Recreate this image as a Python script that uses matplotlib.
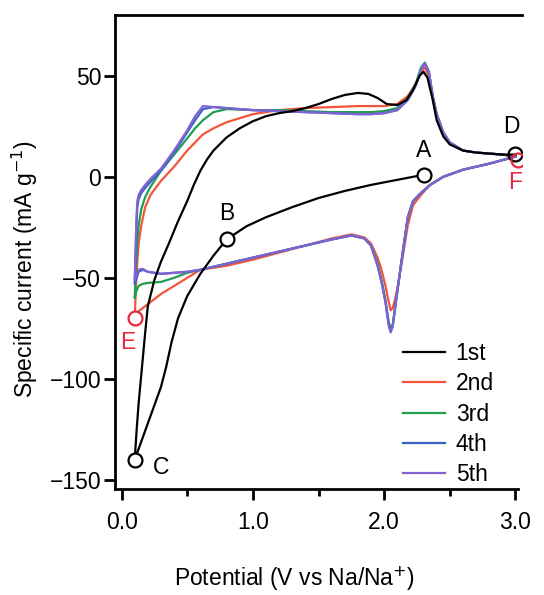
import matplotlib
matplotlib.use("Agg")
import matplotlib.pyplot as plt

plt.rcParams['font.family'] = ['Liberation Sans', 'DejaVu Sans']

# ---- data ----
# 1st cycle: cathodic sweep A -> B -> C, then anodic sweep C -> D
v1_cath = [2.3, 2.1, 1.9, 1.7, 1.5, 1.3, 1.1, 0.95, 0.8, 0.7, 0.6, 0.5, 0.43,
           0.38, 0.34, 0.3, 0.25, 0.2, 0.15, 0.1]
i1_cath = [1, -1.5, -4, -7, -10.5, -15, -20, -24.5, -31, -39, -48, -59, -70,
           -82, -94, -104, -113, -122, -131, -140]
v1_anod = [0.1, 0.115, 0.13, 0.15, 0.18, 0.2, 0.25, 0.3, 0.36, 0.43, 0.5, 0.55,
           0.6, 0.65, 0.7, 0.8, 0.9, 1.0, 1.1, 1.2, 1.3, 1.4, 1.5, 1.6, 1.7,
           1.8, 1.88, 1.95, 2.02, 2.1, 2.17, 2.22, 2.27, 2.3, 2.33, 2.37, 2.4,
           2.45, 2.5, 2.6, 2.7, 2.8, 2.9, 3.0]
i1_anod = [-140, -125, -112, -98, -77, -64, -51, -42, -33, -22, -12, -4,
           3, 8.5, 13, 19.5, 24, 27.5, 30, 31.5, 32.5, 34, 36, 38.5, 40.5,
           41.5, 41, 39, 36, 35.5, 38, 43, 50, 52, 49, 38, 28,
           20, 16, 13, 12, 11.5, 11, 11]

# cycles 2-5: cathodic 3.0 -> 0.1 V, then anodic 0.1 -> 3.0 V
v_cath = [3.0, 2.8, 2.6, 2.45, 2.35, 2.28, 2.22, 2.18, 2.14, 2.11, 2.085, 2.065,
          2.05, 2.035, 2.01, 1.98, 1.95, 1.9, 1.85, 1.75, 1.6, 1.4, 1.2, 1.0,
          0.8, 0.6, 0.5, 0.4, 0.3, 0.2, 0.16, 0.13, 0.11, 0.1]
i2_cath = [10, 6.5, 3.5, 0, -4, -9, -14, -24, -40, -52, -60, -65,
           -66, -62, -54, -46, -40, -33, -30, -28.5, -30.5, -34, -37.5, -41,
           -44, -46, -50, -54, -58, -63, -65, -66.5, -68, -70]
i3_cath = [10, 6.5, 3.5, 0, -4, -8, -12, -20, -38, -52, -64, -73,
           -75, -72, -61, -51, -43, -34, -30.5, -29, -31, -34, -37, -40,
           -43, -46, -47.5, -50, -52, -52.5, -53, -54, -57, -60]
i4_cath = [10, 6.5, 3.5, 0, -4, -8, -12, -20, -38, -52, -64, -74,
           -76, -73, -62, -52, -44, -34, -30.5, -29, -31, -34, -37, -40,
           -43, -46, -47, -47.5, -48, -47, -46, -47, -51, -53]
i5_cath = [10, 6.5, 3.5, 0, -4, -8, -12, -20, -38, -52, -64, -74,
           -77, -74, -62, -52, -44, -34, -30.5, -29, -31, -34, -37, -40,
           -43, -46, -47, -47.5, -48, -47, -45.5, -46, -49, -51]

v_anod = [0.1, 0.105, 0.11, 0.115, 0.12, 0.13, 0.15, 0.18, 0.22, 0.3, 0.4, 0.5,
          0.56, 0.62, 0.7, 0.8, 1.0, 1.2, 1.4, 1.6, 1.8, 1.9, 2.0, 2.1, 2.18,
          2.24, 2.28, 2.31, 2.34, 2.37, 2.4, 2.45, 2.5, 2.6, 2.7, 2.8, 2.9, 3.0]
i2_anod = [-70, -62, -54, -47, -42, -33, -24, -15, -9, -2, 5, 13,
           17, 21, 24, 27, 31, 33, 34, 34.5, 35, 35, 35, 36, 40,
           46, 52, 54, 50, 39, 30, 21, 17, 13, 12, 11.5, 11, 10]
i3_anod = [-60, -52, -44, -38, -32, -24, -16, -10, -5, 3, 11, 19,
           24, 28, 32, 33.5, 33, 33, 32.5, 32, 32, 32, 32.5, 34, 39,
           46, 54, 56.5, 52, 40, 31, 22, 17, 13, 12, 11.5, 11, 10]
i4_anod = [-53, -43, -32, -22, -15, -11, -8, -5.5, -2.5, 3, 12, 22,
           28, 33.5, 34.5, 34, 33, 32.5, 32, 31.5, 31, 31, 31.5, 33, 38,
           45, 53, 56, 52, 40, 31, 22, 17, 13, 12, 11.5, 11, 10]
i5_anod = [-51, -40, -28, -18, -12, -9, -6.5, -4, -1, 4, 13, 23,
           30, 35, 34.5, 34, 33, 32.5, 32, 31.5, 31, 31, 31.5, 33, 38,
           45, 53, 56, 52, 40, 31, 22, 17, 13, 12, 11.5, 11, 10]

cycle_labels = ['1st', '2nd', '3rd', '4th', '5th']
cycle_colors = ['black', '#f2553c', '#1f9e50', '#3b63c4', '#8063d0']

# marked states on the curves
pt_names = ['A', 'B', 'C', 'D', 'E', 'F']
pt_v = [2.3, 0.8, 0.1, 3.0, 0.1, 3.02]
pt_i = [1, -31, -140, 11.5, -70, 8.5]
pt_colors = ['black', 'black', 'black', 'black', '#e8283c', '#e8283c']
pt_text_v = [2.3, 0.8, 0.3, 2.97, 0.05, 3.0]
pt_text_i = [13, -18, -144, 25, -82, -3]

# ---- plot ----
fig = plt.figure(figsize=(5.44, 5.95), dpi=100)
ax = fig.add_axes([0.2114, 0.178, 0.7482, 0.7966])

ax.plot(v1_cath + v1_anod, i1_cath + i1_anod, color=cycle_colors[0], lw=1.6,
        label=cycle_labels[0], zorder=3)
for k, (ic, ia) in enumerate([(i2_cath, i2_anod), (i3_cath, i3_anod),
                              (i4_cath, i4_anod), (i5_cath, i5_anod)]):
    ax.plot(v_cath + v_anod, ic + ia, color=cycle_colors[k + 1], lw=1.6,
            label=cycle_labels[k + 1], zorder=2)

for name, v, i, c, tv, ti in zip(pt_names, pt_v, pt_i, pt_colors, pt_text_v, pt_text_i):
    face = 'none' if name in ('D', 'F') else 'white'
    ax.plot(v, i, 'o', ms=10, mfc=face, mec=c, mew=1.6, zorder=5)
    ax.text(tv, ti, name, color=c, fontsize=16.5, ha='center', va='center', zorder=6)

ax.set_xlim(-0.05, 3.05)
ax.set_ylim(-154.5, 80)
ax.spines['right'].set_visible(False)
ax.spines['bottom'].set_bounds(-0.05, 3.02)
for s in ('left', 'bottom', 'top'):
    ax.spines[s].set_linewidth(2)

ax.set_xticks([0, 1, 2, 3])
ax.set_xticklabels(['0.0', '1.0', '2.0', '3.0'])
ax.set_xticks([0.5, 1.5, 2.5], minor=True)
ax.set_yticks([-150, -100, -50, 0, 50])
ax.tick_params(axis='x', which='major', length=8, width=2, labelsize=16.5, pad=8)
ax.tick_params(axis='x', which='minor', length=5, width=2)
ax.tick_params(axis='y', length=8, width=2, labelsize=16.5, pad=2)

ax.set_xlabel('Potential (V vs Na/Na$^{+}$)', fontsize=16.5)
ax.set_ylabel('Specific current (mA g$^{-1}$)', fontsize=16.5)
ax.xaxis.set_label_coords(0.44, -0.158)
ax.yaxis.set_label_coords(-0.185, 0.464)

ax.legend(loc='upper left', bbox_to_anchor=(0.707, 0.31), frameon=False,
          fontsize=16.5, handlelength=1.83, handletextpad=0.48, labelspacing=0.32,
          borderpad=0, borderaxespad=0)

plt.savefig('out.png', dpi=100)
